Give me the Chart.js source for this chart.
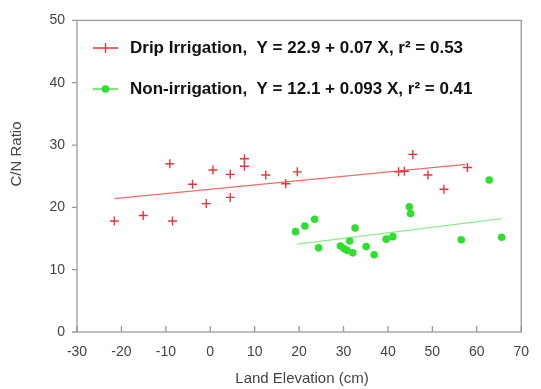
<!DOCTYPE html>
<html>
<head>
<meta charset="utf-8">
<script src="https://cdn.jsdelivr.net/npm/chart.js@4.4.0/dist/chart.umd.min.js"></script>
<style>
html, body { margin: 0; padding: 0; background: #fff; }
#wrap { width: 541px; height: 389px; position: relative; }
</style>
</head>
<body>
<div id="wrap"><canvas id="cnChart" width="541" height="389"></canvas></div>
<script>
// values
const dripX = [-21.6, -15.1, -9.1, -8.5, -4.0, -0.9, 0.6, 4.5, 4.5, 7.7, 7.7, 12.5, 17.0, 19.6, 42.4, 43.7, 45.6, 49.0, 52.6, 57.9];
const dripY = [17.8, 18.7, 27.0, 17.8, 23.7, 20.6, 26.0, 25.3, 21.6, 27.8, 26.6, 25.2, 23.8, 25.7, 25.7, 25.8, 28.5, 25.2, 22.9, 26.4];
const nonX = [19.2, 21.3, 23.5, 24.4, 29.3, 30.1, 31.4, 30.8, 32.1, 32.6, 35.1, 36.9, 39.6, 41.1, 44.8, 45.1, 56.5, 62.8, 65.6];
const nonY = [16.1, 17.0, 18.1, 13.5, 13.8, 13.4, 14.6, 13.1, 12.7, 16.7, 13.7, 12.4, 14.9, 15.3, 20.1, 19.0, 14.8, 24.4, 15.2];
// fitted lines, end points as drawn
const dripFitX = [-21.6, 57.5];
const dripFitY = [21.4, 26.9];
const nonFitX = [19.6, 65.6];
const nonFitY = [14.1, 18.2];
const xTicks = [-30, -20, -10, 0, 10, 20, 30, 40, 50, 60, 70];
const yTicks = [0, 10, 20, 30, 40, 50];
const legendLabels = ['Drip Irrigation,  Y = 22.9 + 0.07 X, r\u00b2 = 0.53', 'Non-irrigation,  Y = 12.1 + 0.093 X, r\u00b2 = 0.41'];

const RED = '#e8333d';
const GREEN = '#2ee02e';
const FONT = '"Liberation Sans", Arial, sans-serif';

const pts = (xs, ys) => xs.map((x, i) => ({ x: x, y: ys[i] }));

// frame, inward x ticks, outward y ticks, axis titles, legend
const decor = {
  id: 'decor',
  afterDraw(chart) {
    const ctx = chart.ctx;
    const a = chart.chartArea;
    const xs = chart.scales.x, ys = chart.scales.y;
    ctx.save();
    ctx.strokeStyle = '#9a9a9a';
    ctx.lineWidth = 1.3;
    ctx.strokeRect(a.left, a.top, a.right - a.left, a.bottom - a.top);
    ctx.beginPath();
    xTicks.forEach(v => {
      const px = xs.getPixelForValue(v);
      ctx.moveTo(px, a.bottom);
      ctx.lineTo(px, a.bottom - 6);
    });
    yTicks.forEach(v => {
      const py = ys.getPixelForValue(v);
      ctx.moveTo(a.left, py);
      ctx.lineTo(a.left - 5, py);
    });
    ctx.stroke();

    // axis titles
    ctx.fillStyle = '#444';
    ctx.font = '15px ' + FONT;
    ctx.textAlign = 'center';
    ctx.textBaseline = 'middle';
    ctx.fillText('Land Elevation (cm)', 302, 379);
    ctx.translate(17, 154);
    ctx.rotate(-Math.PI / 2);
    ctx.fillText('C/N Ratio', 0, 0);
    ctx.restore();

    // legend
    ctx.save();
    const rows = [48, 89];
    ctx.lineWidth = 1.3;
    ctx.strokeStyle = RED;
    ctx.beginPath();
    ctx.moveTo(93, rows[0]); ctx.lineTo(118, rows[0]);
    ctx.moveTo(105.5, rows[0] - 5); ctx.lineTo(105.5, rows[0] + 5);
    ctx.stroke();
    ctx.strokeStyle = GREEN;
    ctx.beginPath();
    ctx.moveTo(93, rows[1]); ctx.lineTo(118, rows[1]);
    ctx.stroke();
    ctx.fillStyle = GREEN;
    ctx.beginPath();
    ctx.arc(105.5, rows[1], 3.8, 0, Math.PI * 2);
    ctx.fill();
    ctx.fillStyle = '#111';
    ctx.font = 'bold 17px ' + FONT;
    ctx.textAlign = 'left';
    ctx.textBaseline = 'middle';
    legendLabels.forEach((t, i) => ctx.fillText(t, 130, rows[i]));
    ctx.restore();
  }
};

new Chart(document.getElementById('cnChart'), {
  type: 'scatter',
  data: {
    datasets: [
      { label: 'Drip fit', type: 'line', data: pts(dripFitX, dripFitY), borderColor: '#f26a6a', borderWidth: 1.2, pointRadius: 0, fill: false, order: 3 },
      { label: 'Non fit', type: 'line', data: pts(nonFitX, nonFitY), borderColor: '#8fea8f', borderWidth: 1.2, pointRadius: 0, fill: false, order: 3 },
      { label: 'Drip Irrigation', data: pts(dripX, dripY), pointStyle: 'cross', pointRadius: 4.5, borderColor: RED, borderWidth: 1.4, order: 1 },
      { label: 'Non-irrigation', data: pts(nonX, nonY), pointStyle: 'circle', pointRadius: 3.8, backgroundColor: GREEN, borderColor: GREEN, borderWidth: 0, order: 2 }
    ]
  },
  options: {
    responsive: false,
    animation: false,
    layout: { padding: { top: 20, right: 11, left: 0, bottom: 0 } },
    plugins: { legend: { display: false }, tooltip: { enabled: false } },
    scales: {
      x: {
        type: 'linear', min: -30, max: 70,
        afterFit: s => { s.height = 57; },
        afterBuildTicks: s => { s.ticks = xTicks.map(v => ({ value: v })); },
        grid: { display: false, drawTicks: false },
        border: { display: false },
        ticks: { padding: 12, color: '#444', font: { family: FONT, size: 14 } }
      },
      y: {
        type: 'linear', min: 0, max: 50,
        afterFit: s => { s.width = 77; },
        afterBuildTicks: s => { s.ticks = yTicks.map(v => ({ value: v })); },
        grid: { display: false, drawTicks: false },
        border: { display: false },
        ticks: { padding: 12, color: '#444', font: { family: FONT, size: 14 } }
      }
    }
  },
  plugins: [decor]
});
</script>
</body>
</html>
